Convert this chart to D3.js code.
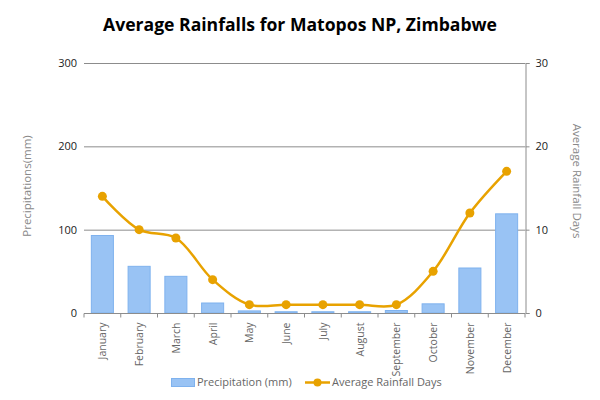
<!DOCTYPE html>
<html><head><meta charset="utf-8">
<script src="https://cdn.jsdelivr.net/npm/d3@7"></script>
<style>body{margin:0;background:#fff}svg{display:block}</style>
</head><body>
<svg id="c" width="600" height="400"></svg>
<script>
const months = ["January","February","March","April","May","June","July","August","September","October","November","December"];
const precipitation = [93, 56, 44, 12, 2.5, 1.5, 1.5, 1.5, 3, 11, 54, 119];
const rainDays = [14, 10, 9, 4, 1, 1, 1, 1, 1, 5, 12, 17];
const leftTicks = [0, 100, 200, 300];
const rightTicks = [0, 10, 20, 30];

const svg = d3.select("#c");
const L = 84, R = 525, T = 63, B = 313;
const font = "'Open Sans', 'Segoe UI', sans-serif";

const x = d3.scaleBand().domain(months).range([L, R]).paddingInner(0.4).paddingOuter(0.2);
const xb = d3.scaleBand().domain(months).range([L, R]);
const yL = d3.scaleLinear().domain([0, 300]).range([B, T]);
const yR = d3.scaleLinear().domain([0, 30]).range([B, T]);

// title
svg.append("text").attr("x", 300).attr("y", 31).attr("text-anchor", "middle")
  .attr("font-family", font).attr("font-weight", "bold").attr("font-size", 17.5)
  .attr("textLength", 394).attr("lengthAdjust", "spacingAndGlyphs")
  .attr("fill", "#000").text("Average Rainfalls for Matopos NP, Zimbabwe");

// gridlines
svg.append("g").selectAll("line").data(leftTicks.filter(d => d > 0)).join("line")
  .attr("x1", L).attr("x2", R).attr("y1", d => yL(d) + 0.5).attr("y2", d => yL(d) + 0.5)
  .attr("stroke", "#8c8c8c").attr("stroke-width", 1);

// left tick labels
svg.append("g").selectAll("text").data(leftTicks).join("text")
  .attr("x", 77).attr("y", d => yL(d) + 4).attr("text-anchor", "end")
  .attr("font-family", font).attr("font-size", 11).attr("fill", "#222").text(d => d);

// right axis
const ra = svg.append("g").attr("transform", `translate(${R + 0.5},0)`)
  .call(d3.axisRight(yR).tickValues(rightTicks).tickSize(4).tickPadding(6));
ra.select(".domain").attr("stroke", "#8c8c8c");
ra.selectAll(".tick line").attr("stroke", "#8c8c8c");
ra.selectAll(".tick text").attr("font-family", font).attr("font-size", 11).attr("fill", "#222");

// bars
svg.append("g").selectAll("rect").data(months).join("rect")
  .attr("x", d => x(d)).attr("width", x.bandwidth())
  .attr("y", (d, i) => yL(precipitation[i])).attr("height", (d, i) => B - yL(precipitation[i]))
  .attr("fill", "#99c3f4").attr("stroke", "#7fb2ee").attr("stroke-width", 1);

// bottom axis
const ba = svg.append("g").attr("transform", `translate(0,${B + 0.5})`);
ba.append("line").attr("x1", L).attr("x2", R).attr("stroke", "#8c8c8c");
ba.selectAll("line.t").data(d3.range(13)).join("line").attr("class", "t")
  .attr("x1", i => L + i * xb.bandwidth()).attr("x2", i => L + i * xb.bandwidth())
  .attr("y1", 0).attr("y2", 4).attr("stroke", "#8c8c8c");
ba.selectAll("text").data(months).join("text")
  .attr("transform", d => `translate(${xb(d) + xb.bandwidth() / 2 + 4},9) rotate(-90)`)
  .attr("text-anchor", "end").attr("font-family", font).attr("font-size", 10.5)
  .attr("fill", "#666").text(d => d);

// line
const line = d3.line().x((d, i) => xb(months[i]) + xb.bandwidth() / 2).y(d => yR(d))
  .curve(d3.curveCatmullRom.alpha(0.5));
svg.append("path").datum(rainDays).attr("d", line).attr("fill", "none")
  .attr("stroke", "#e8a200").attr("stroke-width", 2.5);
svg.append("g").selectAll("circle").data(rainDays).join("circle")
  .attr("cx", (d, i) => xb(months[i]) + xb.bandwidth() / 2).attr("cy", d => yR(d))
  .attr("r", 4.5).attr("fill", "#e8a200");

// axis titles
svg.append("text").attr("transform", "translate(31,186) rotate(-90)").attr("text-anchor", "middle")
  .attr("font-family", font).attr("font-size", 11.5).attr("fill", "#888").text("Precipitations(mm)");
svg.append("text").attr("transform", "translate(573,181) rotate(90)").attr("text-anchor", "middle")
  .attr("font-family", font).attr("font-size", 11.5).attr("fill", "#888").text("Average Rainfall Days");

// legend
const lg = svg.append("g");
lg.append("rect").attr("x", 171.5).attr("y", 378.5).attr("width", 23).attr("height", 8)
  .attr("fill", "#99c3f4").attr("stroke", "#7fb2ee");
lg.append("text").attr("x", 197).attr("y", 386).attr("font-family", font).attr("font-size", 11)
  .attr("fill", "#666").text("Precipitation (mm)");
lg.append("line").attr("x1", 305).attr("x2", 330).attr("y1", 382.5).attr("y2", 382.5)
  .attr("stroke", "#e8a200").attr("stroke-width", 2.5);
lg.append("circle").attr("cx", 317.5).attr("cy", 382.5).attr("r", 4).attr("fill", "#e8a200");
lg.append("text").attr("x", 332).attr("y", 386).attr("font-family", font).attr("font-size", 11)
  .attr("fill", "#666").text("Average Rainfall Days");
</script>
</body></html>
